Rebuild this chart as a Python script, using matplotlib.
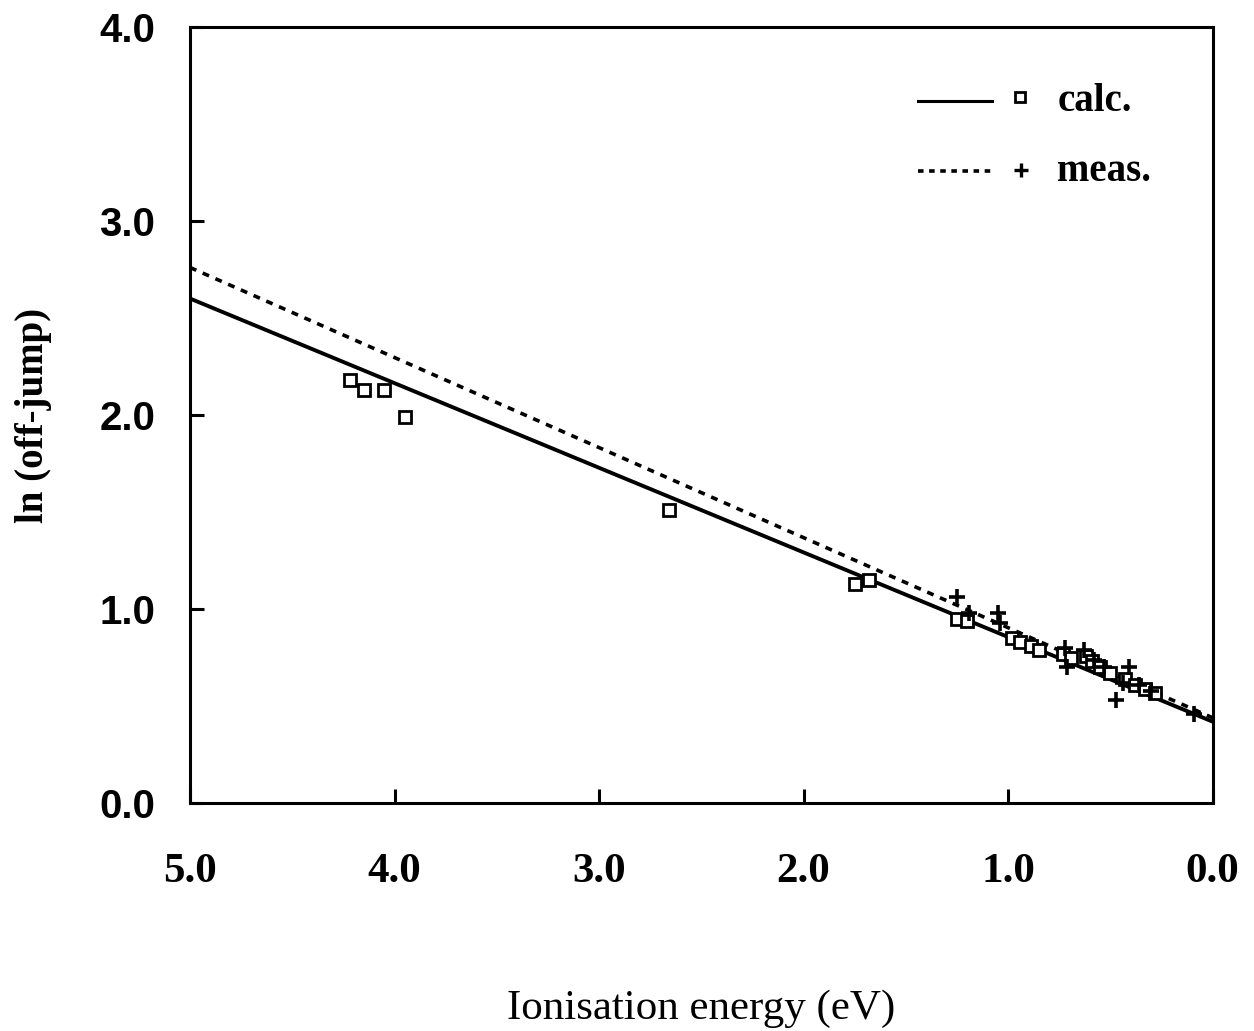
import matplotlib
matplotlib.use("Agg")
import matplotlib.pyplot as plt
from matplotlib.lines import Line2D

plt.rcParams["lines.scale_dashes"] = False

# calculated values (squares)
calc_e = [4.22, 4.15, 4.05, 3.95, 2.66, 1.75, 1.68, 1.25, 1.20, 0.98, 0.94,
          0.89, 0.85, 0.73, 0.69, 0.62, 0.59, 0.55, 0.50, 0.43, 0.38, 0.33, 0.28]
calc_ln = [2.18, 2.13, 2.13, 1.99, 1.51, 1.13, 1.15, 0.95, 0.94, 0.85, 0.83,
           0.81, 0.79, 0.77, 0.75, 0.76, 0.73, 0.70, 0.67, 0.64, 0.61, 0.59, 0.57]

# measured values (crosses)
meas_e = [1.25, 1.19, 1.05, 1.04, 0.72, 0.71, 0.63, 0.58, 0.53, 0.47, 0.44,
          0.41, 0.36, 0.30, 0.09]
meas_ln = [1.06, 0.98, 0.98, 0.93, 0.80, 0.70, 0.79, 0.74, 0.70, 0.53, 0.62,
           0.70, 0.61, 0.58, 0.46]

# fitted lines
fit_e = [5.0, 0.0]
calc_fit = [2.60, 0.42]
meas_fit = [2.76, 0.44]

x_ticks = [5.0, 4.0, 3.0, 2.0, 1.0, 0.0]
y_ticks = [0.0, 1.0, 2.0, 3.0, 4.0]

fig = plt.figure(figsize=(12.54, 10.31), dpi=100)
ax = fig.add_axes([0.1515, 0.221, 0.8155, 0.753])

ax.plot(fit_e, calc_fit, color="black", lw=2.8, solid_capstyle="butt")
ax.plot(fit_e, meas_fit, color="black", lw=2.6, dashes=(5, 5))
ax.plot(calc_e, calc_ln, ls="none", marker="s", ms=8, mfc="white",
        mec="black", mew=2.0)
ax.plot(meas_e, meas_ln, ls="none", marker="+", ms=11, mec="black", mew=2.6)

ax.set_xlim(5.0, 0.0)
ax.set_ylim(0.0, 4.0)
ax.set_xticks(x_ticks)
ax.set_yticks(y_ticks)
ax.set_xticklabels([f"{v:.1f}" for v in x_ticks], family="Liberation Serif",
                   fontweight="bold", fontsize=31)
ax.set_yticklabels([f"{v:.1f}" for v in y_ticks], family="Liberation Sans",
                   fontweight="bold", fontsize=29)
ax.tick_params(direction="in", length=10, width=2.2, top=False, right=False)
ax.tick_params(axis="x", pad=36)
ax.tick_params(axis="y", pad=25)
for sp in ax.spines.values():
    sp.set_linewidth(2.2)

ax.set_xlabel("Ionisation energy (eV)", family="Liberation Serif",
              fontsize=31, labelpad=71)
ax.set_ylabel("ln (off-jump)", family="Liberation Serif", fontweight="bold",
              fontsize=28, labelpad=34)

# legend drawn in axes coordinates
tr = ax.transAxes
ax.add_line(Line2D([0.712, 0.784], [0.904, 0.904], color="black", lw=2.2,
                   transform=tr))
ax.add_line(Line2D([0.712, 0.784], [0.814, 0.814], color="black", lw=2.6,
                   dashes=(4, 4), transform=tr))
ax.plot([0.812], [0.910], marker="s", ms=6.5, mfc="white", mec="black",
        mew=2.0, transform=tr)
ax.plot([0.813], [0.816], marker="+", ms=10, mec="black", mew=2.4,
        transform=tr)
ax.text(0.848, 0.904, "calc.", transform=tr, family="Liberation Serif",
        fontweight="bold", fontsize=28, va="center")
ax.text(0.848, 0.814, "meas.", transform=tr, family="Liberation Serif",
        fontweight="bold", fontsize=28, va="center")

fig.savefig("out.png", dpi=100)
